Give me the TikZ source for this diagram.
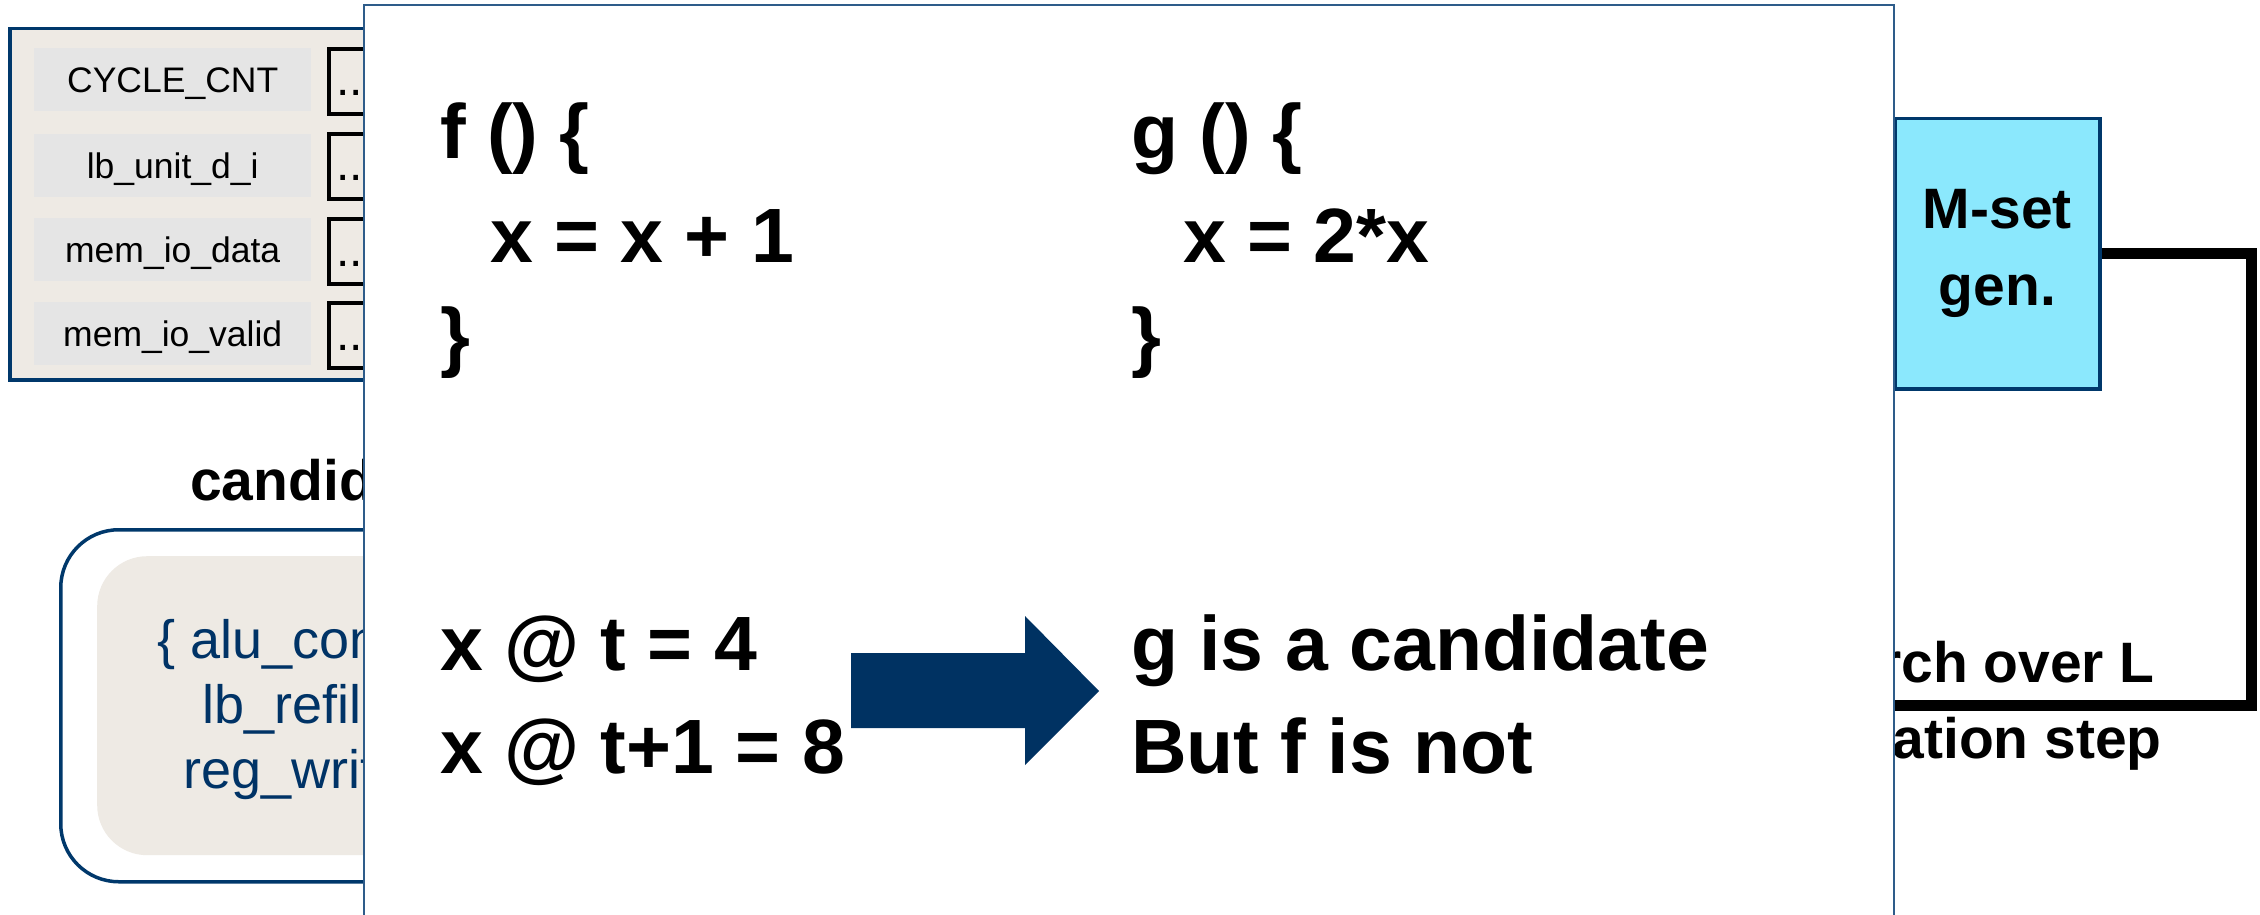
\documentclass[tikz,border=0pt]{standalone}
\usepackage{fontspec}
\setmainfont{Liberation Sans}
\definecolor{navyfill}{HTML}{003262}
\definecolor{navyline}{HTML}{00386B}
\definecolor{navytext}{HTML}{003366}
\definecolor{ovlline}{HTML}{2E5C8A}
\definecolor{beige}{HTML}{EEEAE4}
\definecolor{lightgray}{HTML}{E5E5E5}
\definecolor{cyanfill}{HTML}{8BE8FD}
\begin{document}
\begin{tikzpicture}[x=1pt,y=-1pt,
  panel/.style={draw=navyline, line width=3.5pt, fill=beige, inner sep=0, anchor=north west},
  sigbox/.style={fill=lightgray, inner sep=0, anchor=north west, minimum width=277pt, minimum height=63pt,
    text height=25.5pt, text depth=0pt, font=\fontsize{35.5}{42}\selectfont},
  dotbox/.style={draw=black, line width=4pt, fill=beige, inner sep=0, anchor=north west, minimum width=100pt, minimum height=65pt},
  dottxt/.style={anchor=base west, inner sep=0, font=\fontsize{48}{56}\selectfont},
  candtxt/.style={anchor=base west, inner sep=0, text=navytext, font=\fontsize{54}{65}\selectfont},
  boldlabel/.style={inner sep=0, font=\bfseries\fontsize{57}{70}\selectfont},
  bigtxt/.style={anchor=base west, inner sep=0, font=\bfseries\fontsize{77}{90}\selectfont}
]
\useasboundingbox (0,0) rectangle (2260,915);
\clip (0,0) rectangle (2260,915);

% ---- signal panel (top left) ----
\node[panel, minimum width=560pt, minimum height=351pt] (signals) at (8,27) {};
\node[sigbox] (s1) at (34,48) {CYCLE\_CNT};
\node[sigbox] (s2) at (34,134) {lb\_unit\_d\_i};
\node[sigbox] (s3) at (34,218) {mem\_io\_data};
\node[sigbox] (s4) at (34,302) {mem\_io\_valid};
\node[dotbox] (b1) at (327,47) {};
\node[dotbox] (b2) at (327,132) {};
\node[dotbox] (b3) at (327,217) {};
\node[dotbox] (b4) at (327,301) {};
\node[dottxt] (d1) at (336,96) {...};
\node[dottxt] (d2) at (336,181) {...};
\node[dottxt] (d3) at (336,266) {...};
\node[dottxt] (d4) at (336,350) {...};

% ---- candidates ----
\node[boldlabel, anchor=base west] (candlabel) at (190,500) {candidates};
\node[draw=navyline, line width=3.5pt, fill=white, rounded corners=58pt, inner sep=0, anchor=north west,
      minimum width=800pt, minimum height=352pt] (candbox) at (59,528) {};
\node[fill=beige, rounded corners=50pt, inner sep=0, anchor=north west,
      minimum width=760pt, minimum height=299pt] (candinner) at (97,556) {};
\node[candtxt] (cl1) at (157,658) {\{ alu\_con};
\node[candtxt] (cl2) at (202,723) {lb\_refill};
\node[candtxt] (cl3) at (183,788) {reg\_writ};

% ---- loop connector and labels on the right ----
\coordinate (turn) at (2251,705);
\coordinate (loopend) at (1500,705);
\node[boldlabel, anchor=base east] (search) at (2155,682) {rch over L};
\node[boldlabel, anchor=base east] (iterstep) at (2162,758) {ation step};
\node[draw=navyline, line width=3.5pt, fill=cyanfill, inner sep=0, anchor=north west,
      minimum width=205pt, minimum height=270pt, align=center,
      font=\bfseries\fontsize{57}{77}\selectfont] (mset) at (1893,117) {M-set\\gen.};
\draw[line width=11pt, line join=miter] (mset.east) -| (turn) -- (loopend);

% ---- overlay example ----
\node[draw=ovlline, line width=2pt, fill=white, inner sep=0, anchor=north west,
      minimum width=1530pt, minimum height=1000pt] (overlay) at (363,4) {};
\node[bigtxt] (fhead) at (440,158) {f () \{};
\node[bigtxt] (fbody) at (490,262) {x = x + 1};
\node[bigtxt] (fend) at (440,362) {\}};
\node[bigtxt] (ghead) at (1131,158) {g () \{};
\node[bigtxt] (gbody) at (1183,262) {x = 2*x};
\node[bigtxt] (gend) at (1131,362) {\}};
\node[bigtxt] (obs1) at (440,670) {x @ t = 4};
\node[bigtxt] (obs2) at (440,773) {x @ t+1 = 8};
\node[bigtxt] (res1) at (1131,670) {g is a candidate};
\node[bigtxt] (res2) at (1131,773) {But f is not};
\fill[navyfill] (851,653) -- (1025,653) -- (1025,616) -- (1099,691) -- (1025,765) -- (1025,728) -- (851,728) -- cycle;
\end{tikzpicture}
\end{document}
